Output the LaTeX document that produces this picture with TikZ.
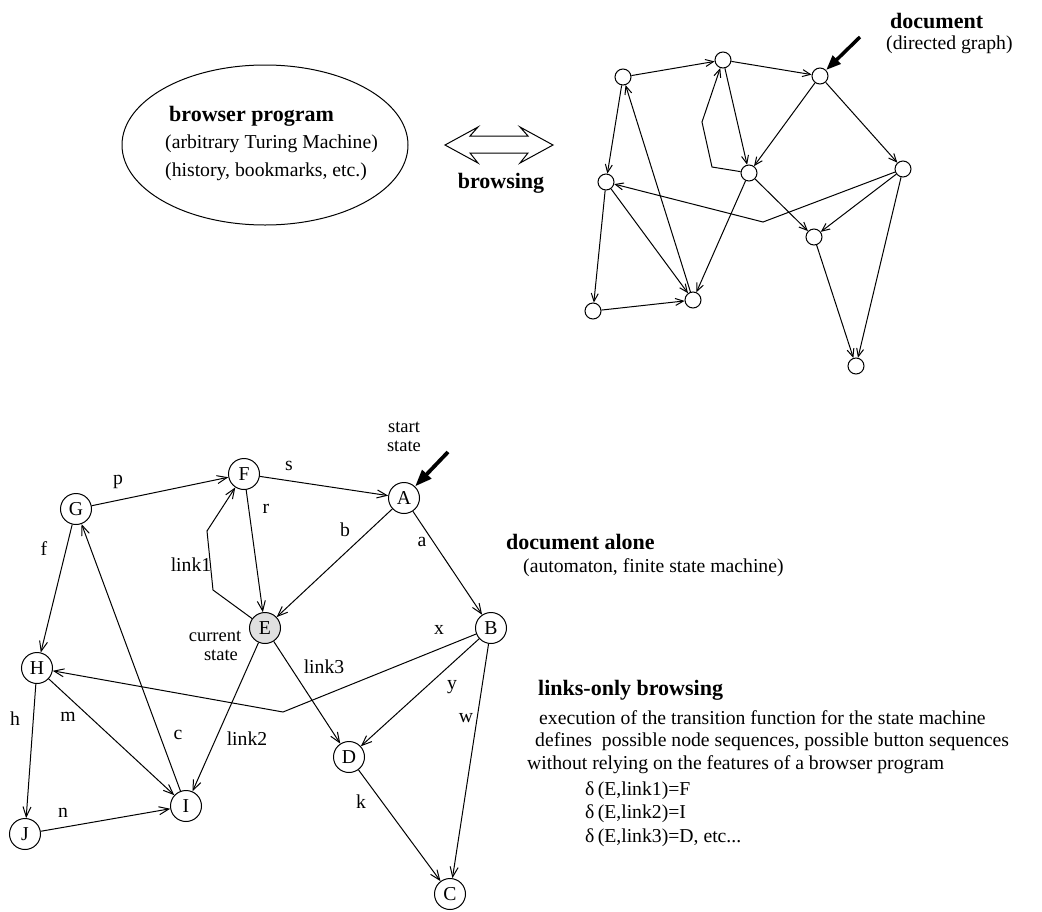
\documentclass[tikz,border=0pt]{standalone}
\usepackage{fontspec}
\setmainfont{Liberation Serif}
\usetikzlibrary{arrows.meta,shapes.geometric}
\newcommand{\regfont}{\fontsize{19.7}{24}\selectfont}
\newcommand{\smfont}{\fontsize{18.5}{20}\selectfont}
\newcommand{\bldfont}{\fontsize{22}{26}\selectfont\bfseries}
\begin{document}
\begin{tikzpicture}[x=1pt,y=-1pt,
  every node/.style={inner sep=0pt,font=\regfont},
  small/.style={circle,draw,line width=1pt,minimum size=16pt},
  state/.style={circle,draw,line width=1pt,minimum size=31pt},
  sedge/.style={line width=1pt,-{Straight Barb[length=8pt,width=7pt]}},
  bedge/.style={line width=1pt,-{Straight Barb[length=10pt,width=8pt]}},
  thick arrow/.style={line width=3.8pt,-{Triangle[length=17pt,width=12pt]}},
  title/.style={font=\bldfont},
  lbl/.style={font=\regfont},
  note/.style={font=\smfont,anchor=base}]
\useasboundingbox (0,0) rectangle (1042,911);

% ---------- browser program ellipse ----------
\node[ellipse,draw,line width=1pt,minimum width=286pt,minimum height=160pt] (prog) at (265,145) {};
\node[title,anchor=west] (progt) at (169,116) {browser program};
\node[anchor=west] (prog1) at (165,144) {(arbitrary Turing Machine)};
\node[anchor=west] (prog2) at (165,172) {(history, bookmarks, etc.)};

% double arrow
\draw[line width=1pt] (445,145) -- (478,127) -- (470,136) -- (528,136) -- (520,127)
  -- (553,145) -- (520,163) -- (528,153) -- (470,153) -- (478,163) -- cycle;
\node[title] (brw) at (501,183) {browsing};

% ---------- top right graph ----------
\node[title,anchor=base west] (doct) at (890,28) {document};
\node[anchor=base west] (docs) at (886,49) {(directed graph)};

\node[small] (n1) at (623,77) {};
\node[small] (n2) at (723,60) {};
\node[small] (n3) at (820,76) {};
\node[small] (n4) at (606,182) {};
\node[small] (n5) at (749,173) {};
\node[small] (n6) at (903,169) {};
\node[small] (n7) at (814,237) {};
\node[small] (n8) at (593,311) {};
\node[small] (n9) at (693,300) {};
\node[small] (n10) at (856,366) {};
\coordinate (t1) at (712,167);
\coordinate (t2) at (702,122);
\coordinate (t3) at (763,222);
\coordinate (ts) at (860,37);

\draw[sedge] (n1) -- (n2);
\draw[sedge] (n2) -- (n3);
\draw[sedge] (n1) -- (n4);
\draw[sedge] (n9) -- (n1);
\draw[sedge] (n2) -- (n5);
\draw[sedge] (n5) -- (t1) -- (t2) -- (n2);
\draw[sedge] (n3) -- (n5);
\draw[sedge] (n3) -- (n6);
\draw[sedge] (n6) -- (t3) -- (n4);
\draw[sedge] (n4) -- (n8);
\draw[sedge] (n4) -- (n9);
\draw[sedge] (n5) -- (n9);
\draw[sedge] (n5) -- (n7);
\draw[sedge] (n6) -- (n7);
\draw[sedge] (n6) -- (n10);
\draw[sedge] (n7) -- (n10);
\draw[sedge] (n8) -- (n9);
\draw[line width=3.5pt,-{Triangle[length=15pt,width=11pt]}] (ts) -- (n3);

% ---------- bottom automaton ----------
\node[state] (G) at (76,509) {G};
\node[state] (F) at (244,474) {F};
\node[state] (A) at (404,498) {A};
\node[state,fill=black!12] (E) at (265,628) {E};
\node[state] (B) at (491,628) {B};
\node[state] (H) at (37,668) {H};
\node[state] (D) at (349,757) {D};
\node[state] (I) at (186,806) {I};
\node[state] (J) at (25,834) {J};
\node[state] (C) at (450,894) {C};
\coordinate (l1a) at (213,590);
\coordinate (l1b) at (207,531);
\coordinate (xb) at (283,712);
\coordinate (sa) at (448,452);

\draw[bedge] (G) -- (F);
\draw[bedge] (F) -- (A);
\draw[bedge] (F) -- (E);
\draw[bedge] (E) -- (l1a) -- (l1b) -- (F);
\draw[bedge] (A) -- (E);
\draw[bedge] (A) -- (B);
\draw[bedge] (G) -- (H);
\draw[bedge] (I) -- (G);
\draw[bedge] (H) -- (J);
\draw[bedge] (H) -- (I);
\draw[bedge] (J) -- (I);
\draw[bedge] (E) -- (I);
\draw[bedge] (E) -- (D);
\draw[bedge] (B) -- (xb) -- (H);
\draw[bedge] (B) -- (D);
\draw[bedge] (B) -- (C);
\draw[bedge] (D) -- (C);
\draw[thick arrow] (sa) -- (A);

\node[lbl] (lp) at (118,482) {p};
\node[lbl] (ls) at (289,466) {s};
\node[lbl] (lr) at (266,509) {r};
\node[lbl] (llink1) at (191,565) {link1};
\node[lbl] (lb) at (345,530) {b};
\node[lbl] (la) at (422,542) {a};
\node[lbl] (lf) at (44,549) {f};
\node[lbl] (lc) at (178,735) {c};
\node[lbl] (lh) at (15,719) {h};
\node[lbl] (lm) at (68,717) {m};
\node[lbl] (ln) at (63,813) {n};
\node[lbl] (llink2) at (247,739) {link2};
\node[lbl] (llink3) at (324,667) {link3};
\node[lbl] (lx) at (439,630) {x};
\node[lbl] (ly) at (452,687) {y};
\node[lbl] (lw) at (466,718) {w};
\node[lbl] (lk) at (361,802) {k};
\node[note] (start1) at (404,432) {start};
\node[note] (start2) at (404,451) {state};
\node[note] (cur1) at (215,641) {current};
\node[note] (cur2) at (221,660) {state};

% ---------- right texts ----------
\node[title,anchor=west] (alone) at (506,542) {document alone};
\node[anchor=west] (alone2) at (523,568) {(automaton, finite state machine)};
\node[title,anchor=west] (lob) at (538,690) {links-only browsing};
\node[anchor=west] (t1l) at (539,718) {execution of the transition function for the state machine};
\node[anchor=west] (t2l) at (535,742) {defines\ \ possible node sequences, possible button sequences};
\node[anchor=west] (t3l) at (527,765) {without relying on the features of a browser program};
\node[anchor=west] (d1) at (585,791) {δ\,(E,link1)=F};
\node[anchor=west] (d2) at (585,814) {δ\,(E,link2)=I};
\node[anchor=west] (d3) at (585,838) {δ\,(E,link3)=D, etc...};
\end{tikzpicture}
\end{document}
